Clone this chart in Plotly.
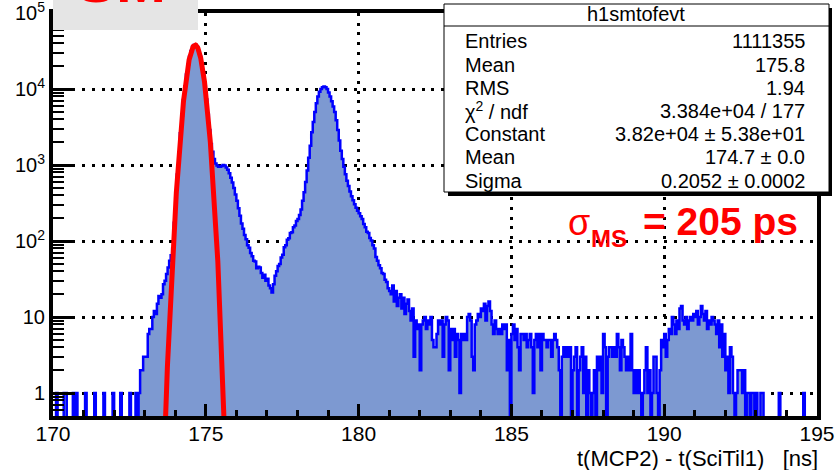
import numpy as np
import plotly.graph_objects as go

# ---------------- data ----------------
x_min = 170.0
bin_width = 0.05

counts_170_175 = [
    0, 0, 1, 0, 0, 0, 0, 1, 1, 0,
    0, 0, 0, 1, 0, 1, 0, 0, 0, 0,
    0, 1, 0, 0, 0, 0, 0, 1, 0, 0,
    0, 0, 0, 1, 0, 0, 0, 0, 0, 1,
    0, 0, 0, 0, 1, 0, 0, 0, 0, 0,
    1, 0, 0, 0, 1, 0, 1, 2, 2, 3,
    3, 3, 6, 7, 7, 10, 12, 11, 15, 19,
    18, 20, 27, 30, 37, 45, 55, 65, 80, 175,
    370, 750, 1450, 2620, 4470, 7200, 10900, 15560, 20950, 26550,
    31710, 35730, 37920, 37920, 35730, 31710, 26550, 20950, 15560, 10900,
]
counts_175_180 = [
    7300, 4600, 2900, 1900, 1500, 1200, 1050, 990, 950, 950,
    970, 1000, 990, 930, 870, 780, 680, 590, 500, 410,
    340, 270, 215, 170, 145, 120, 106, 88, 82, 70,
    63, 55, 54, 44, 46, 45, 38, 33, 36, 30,
    32, 26, 24, 21, 27, 35, 40, 47, 50, 61,
    66, 83, 88, 104, 109, 128, 131, 152, 160, 184,
    196, 220, 260, 340, 440, 600, 850, 1250, 1800, 2700,
    3700, 5000, 6500, 8000, 9200, 10000, 10600, 10800, 10600, 10000,
    9000, 8000, 6900, 5900, 5000, 3900, 2900, 2100, 1550, 1200,
    950, 760, 620, 530, 450, 390, 345, 305, 275, 250,
]
counts_180_185 = [
    232, 212, 195, 168, 152, 133, 128, 110, 102, 88,
    80, 62, 55, 48, 44, 38, 37, 31, 29, 24,
    22, 20, 26, 16, 22, 14, 18, 20, 13, 18,
    11, 15, 17, 12, 9, 13, 3, 9, 7, 8,
    2, 8, 9, 10, 7, 9, 8, 10, 5, 4,
    4, 6, 9, 8, 9, 3, 8, 10, 9, 2,
    7, 5, 7, 3, 6, 5, 1, 6, 5, 6,
    5, 10, 11, 9, 3, 2, 8, 9, 11, 10,
    13, 12, 15, 9, 14, 16, 12, 8, 6, 9,
    7, 6, 7, 6, 8, 7, 8, 2, 5, 0,
]
counts_185_190 = [
    6, 8, 5, 7, 4, 2, 6, 6, 5, 6,
    4, 5, 6, 4, 1, 5, 6, 4, 6, 2,
    6, 5, 5, 4, 5, 5, 3, 5, 6, 5,
    4, 2, 0, 3, 4, 3, 4, 3, 4, 0,
    2, 3, 4, 0, 2, 3, 4, 1, 3, 0,
    2, 1, 0, 1, 2, 0, 3, 2, 3, 1,
    6, 4, 0, 3, 4, 4, 3, 4, 3, 6,
    4, 2, 5, 4, 3, 2, 3, 2, 6, 2,
    1, 2, 1, 2, 1, 0, 1, 2, 4, 1,
    2, 0, 1, 3, 3, 1, 0, 2, 5, 4,
]
counts_190_195 = [
    6, 3, 5, 7, 6, 10, 8, 6, 9, 7,
    13, 14, 9, 8, 10, 7, 9, 10, 9, 11,
    10, 12, 8, 10, 14, 11, 9, 12, 7, 9,
    8, 10, 9, 8, 6, 9, 4, 8, 3, 6,
    2, 3, 1, 4, 3, 1, 0, 1, 2, 2,
    2, 1, 2, 0, 1, 1, 0, 1, 1, 0,
    1, 0, 0, 1, 1, 0, 0, 0, 0, 0,
    0, 0, 0, 0, 0, 1, 0, 0, 0, 0,
    0, 0, 0, 0, 0, 0, 0, 0, 0, 0,
    0, 1, 0, 0, 0, 0, 0, 0, 0, 0,
]

# Gaussian fit parameters (from the stats box / picture)
fit_const = 3.82e4
fit_mean = 174.65
fit_sigma = 0.2052
fit_range = [173.4, 175.9]

stats_title = "h1smtofevt"
stats_labels = ["Entries", "Mean", "RMS", "\u03c7<sup>2</sup> / ndf", "Constant", "Mean", "Sigma"]
stats_values = ["1111355", "175.8", "1.94", "3.384e+04 / 177",
                "3.82e+04 \u00b1 5.38e+01", "174.7 \u00b1 0.0", "0.2052 \u00b1 0.0002"]

y_tickvals = [1, 10, 100, 1000, 10000, 100000]
y_ticktext = ["1", "10", "10<sup>2</sup>", "10<sup>3</sup>", "10<sup>4</sup>", "10<sup>5</sup>"]
x_tickvals = [170, 175, 180, 185, 190, 195]

# ---------------- build figure ----------------
W, H = 835, 470
ML, MR, MT, MB = 53, 18, 13, 54
PW, PH = W - ML - MR, H - MT - MB


def px(x):
    return (x - ML) / PW


def py(y):
    return (H - MB - y) / PH


counts = counts_170_175 + counts_175_180 + counts_180_185 + counts_185_190 + counts_190_195
n = len(counts)
edges = x_min + bin_width * np.arange(n + 1)
floor = 0.1
ydraw = [c if c > 0 else floor for c in counts]

fx, fy = [edges[0]], [floor]
for i in range(n):
    fx += [edges[i], edges[i + 1]]
    fy += [ydraw[i], ydraw[i]]
fx.append(edges[-1])
fy.append(floor)

fig = go.Figure()
fig.add_trace(go.Scatter(x=fx, y=fy, mode="lines", fill="toself",
                         fillcolor="#7d99d1", line=dict(width=0), hoverinfo="skip"))
fig.add_trace(go.Scatter(x=edges, y=ydraw + [ydraw[-1]], mode="lines",
                         line=dict(color="#0000ff", width=2.5, shape="hv")))

xf = np.linspace(fit_range[0], fit_range[1], 600)
yf = fit_const * np.exp(-0.5 * ((xf - fit_mean) / fit_sigma) ** 2)
fig.add_trace(go.Scatter(x=xf, y=yf, mode="lines", line=dict(color="#ff0000", width=5)))

font_main = "Liberation Sans, Arial, Helvetica, sans-serif"
dotdash = "3px,6.7px"

minor_y = [m * 10 ** e for e in range(-1, 5) for m in range(2, 10) if 0.5 <= m * 10 ** e <= 1e5]

fig.update_layout(
    width=W, height=H,
    margin=dict(l=ML, r=MR, t=MT, b=MB, pad=0, autoexpand=False),
    paper_bgcolor="white", plot_bgcolor="white",
    showlegend=False,
    font=dict(family=font_main, color="black"),
    xaxis=dict(
        range=[170, 195], tickmode="array", tickvals=x_tickvals,
        automargin=False, ticklabelstandoff=-4, ticklabeloverflow="allow",
        ticks="inside", ticklen=12, tickwidth=3, tickcolor="black",
        showline=True, linewidth=4, linecolor="black", mirror=True,
        showgrid=True, gridcolor="black", gridwidth=3, griddash=dotdash,
        zeroline=False,
        tickfont=dict(size=21, family=font_main, color="black"),
        minor=dict(ticks="inside", ticklen=6, tickwidth=3, tickcolor="black",
                   dtick=1, tick0=170, showgrid=False),
    ),
    yaxis=dict(
        type="log", range=[np.log10(0.5), 5.001],
        tickmode="array", tickvals=y_tickvals, ticktext=y_ticktext,
        automargin=False, ticklabeloverflow="allow",
        ticks="inside", ticklen=22, tickwidth=3, tickcolor="black",
        showline=True, linewidth=4, linecolor="black", mirror=True,
        showgrid=True, gridcolor="black", gridwidth=3, griddash=dotdash,
        zeroline=False,
        tickfont=dict(size=20, family=font_main, color="black"),
        minor=dict(ticks="inside", ticklen=11, tickwidth=2, tickcolor="black",
                   tickmode="array", tickvals=minor_y, showgrid=False),
    ),
)

shapes = []
# grey label box at top-left
shapes.append(dict(type="rect", xref="paper", yref="paper", layer="above",
                   x0=px(53), x1=px(198), y0=py(30), y1=py(-2),
                   fillcolor="#e5e5e5", line=dict(width=0)))
# stats box shadow + box
shapes.append(dict(type="rect", xref="paper", yref="paper", layer="above",
                   x0=px(448), x1=px(832), y0=py(196), y1=py(8),
                   fillcolor="black", line=dict(width=0)))
shapes.append(dict(type="rect", xref="paper", yref="paper", layer="above",
                   x0=px(444), x1=px(829), y0=py(192), y1=py(4),
                   fillcolor="white", line=dict(color="black", width=1)))
shapes.append(dict(type="line", xref="paper", yref="paper", layer="above",
                   x0=px(444), x1=px(829), y0=py(26), y1=py(26),
                   line=dict(color="black", width=1)))
fig.update_layout(shapes=shapes)

stats_size = 20
ann = []
ann.append(dict(text="<b>SM</b>", xref="paper", yref="paper", x=px(120.5), y=py(-18.5),
                xanchor="center", yanchor="middle", showarrow=False,
                font=dict(size=60, color="#ff0000", family=font_main)))
ann.append(dict(text=stats_title, xref="paper", yref="paper", x=px(636), y=py(14.5),
                xanchor="center", yanchor="middle", showarrow=False,
                font=dict(size=stats_size, color="black", family=font_main)))
row_y = [41, 65, 88, 111, 134, 157, 181]
for lab, val, yy in zip(stats_labels, stats_values, row_y):
    ann.append(dict(text=lab, xref="paper", yref="paper", x=px(463), y=py(yy),
                    xanchor="left", yanchor="middle", showarrow=False,
                    font=dict(size=stats_size, color="black", family=font_main)))
    ann.append(dict(text=val, xref="paper", yref="paper", x=px(807), y=py(yy),
                    xanchor="right", yanchor="middle", showarrow=False,
                    font=dict(size=stats_size, color="black", family=font_main)))
# sigma label
ann.append(dict(text="\u03c3", xref="paper", yref="paper", x=px(566), y=py(222.5),
                xanchor="left", yanchor="middle", showarrow=False,
                font=dict(size=36, color="#ff0000", family=font_main)))
ann.append(dict(text="<b>MS</b>", xref="paper", yref="paper", x=px(589), y=py(238.5),
                xanchor="left", yanchor="middle", showarrow=False,
                font=dict(size=24, color="#ff0000", family=font_main)))
ann.append(dict(text="<b>= 205 ps</b>", xref="paper", yref="paper", x=px(800), y=py(221),
                xanchor="right", yanchor="middle", showarrow=False,
                font=dict(size=39, color="#ff0000", family=font_main)))
# x axis title
ann.append(dict(text="t(MCP2) - t(SciTil1)\u00a0\u00a0\u00a0[ns]", xref="paper", yref="paper",
                x=px(820), y=py(458), xanchor="right", yanchor="middle", showarrow=False,
                font=dict(size=22, color="black", family=font_main)))
fig.update_layout(annotations=ann)

fig.write_html("out.html")
